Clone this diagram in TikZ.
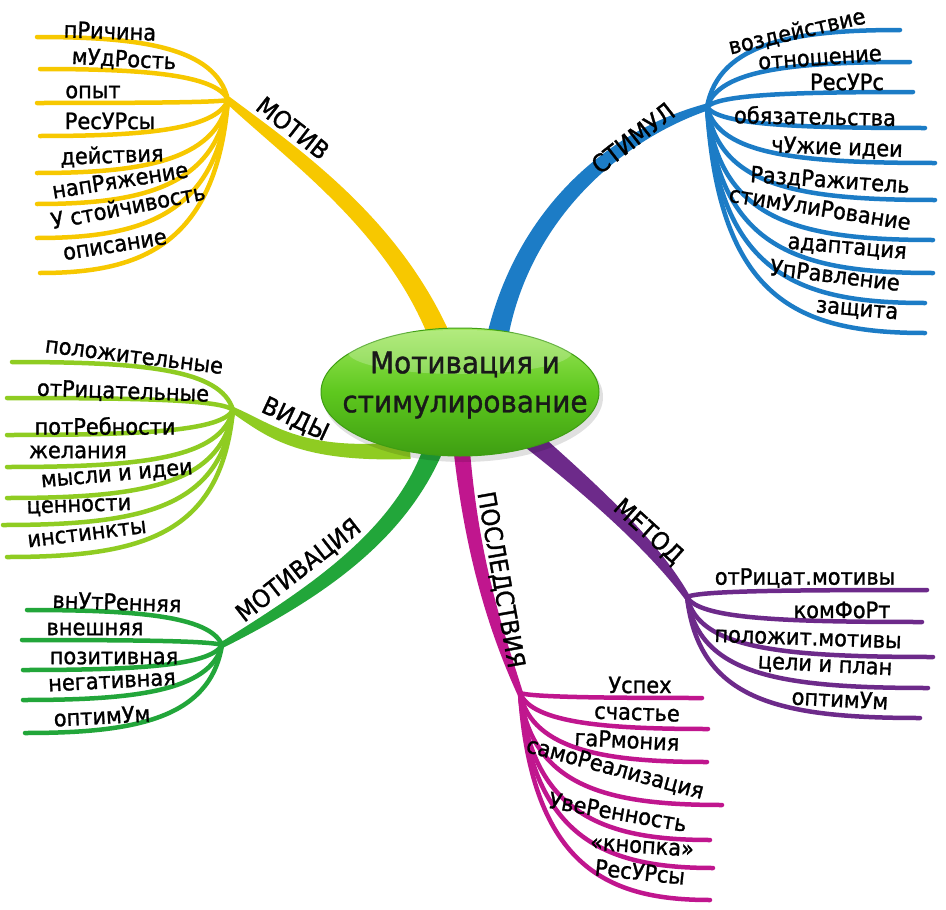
\documentclass[tikz,border=0pt]{standalone}
\usepackage{fontspec}
\setmainfont{DejaVu Sans}[FakeBold=1.2, FakeStretch=0.93]
\usetikzlibrary{calc,shapes.geometric}
\definecolor{cyel}{HTML}{F7C800}
\definecolor{cblu}{HTML}{1C7CC6}
\definecolor{cvid}{HTML}{8FCC22}
\definecolor{cmot}{HTML}{22A63A}
\definecolor{cpos}{HTML}{C0168E}
\definecolor{cmet}{HTML}{6D2A8A}
\definecolor{gtop}{HTML}{9FE75C}
\definecolor{gmid}{HTML}{5EC81E}
\definecolor{gbot}{HTML}{3E9E12}
\tikzset{
  leaf/.style={line width=4.5pt, line cap=round},
  lbl/.style={font=\fontsize{22.5}{22.5}\selectfont, inner sep=0pt, text=black},
  blbl/.style={font=\fontsize{24.5}{24.5}\selectfont, inner sep=0pt, text=black},
}
% #1 hub, #2 c1, #3 c2, #4 start, #5 colour, #6 hub half width, #7 mid, #8 end
\newcommand\taperbranch[8]{%
  \fill[#5] ($(#1)!#6!90:(#2)$) .. controls ($(#2)!#7!90:(#3)$) and ($(#3)!#7!-90:(#2)$) .. ($(#4)!#8!-90:(#3)$)
    -- ($(#4)!#8!90:(#3)$) .. controls ($(#3)!#7!90:(#2)$) and ($(#2)!#7!-90:(#3)$) .. ($(#1)!#6!-90:(#2)$) -- cycle;
  \fill[#5] (#1) circle[radius=#6];}
% #1 hub, #2 end, #3 colour, #4 sign (1 right, -1 left)
\newcommand\leafline[4]{%
  \draw[leaf,#3] let \p1=(#1), \p2=(#2) in
    (#1) .. controls ({\x1+(#4)*12pt}, {\y1+0.85*(\y2-\y1)}) and ({\x1+(#4)*90pt}, \y2) .. (#2);}
\begin{document}
\begin{tikzpicture}[x=1pt,y=-1pt]
\useasboundingbox (0,0) rectangle (946,910);
\fill[white] (0,0) rectangle (946,910);

% ---------- coordinates of branches ----------
\coordinate (yH) at (228,100); \coordinate (yC1) at (300,160); \coordinate (yC2) at (400,230); \coordinate (yS) at (445,350);
\coordinate (bH) at (707,107); \coordinate (bC1) at (600,140); \coordinate (bC2) at (515,230); \coordinate (bS) at (495,350);
\coordinate (vH) at (233,410); \coordinate (vC1) at (270,430); \coordinate (vC2) at (300,458); \coordinate (vS) at (410,450);
\coordinate (mH) at (222,645); \coordinate (mC1) at (320,590); \coordinate (mC2) at (410,530); \coordinate (mS) at (440,430);
\coordinate (pH) at (520,693); \coordinate (pC1) at (500,640); \coordinate (pC2) at (470,560); \coordinate (pS) at (460,430);
\coordinate (tH) at (687,597); \coordinate (tC1) at (650,540); \coordinate (tC2) at (580,480); \coordinate (tS) at (520,430);

% ---------- main branches ----------
\taperbranch{yH}{yC1}{yC2}{yS}{cyel}{3.5pt}{8.5pt}{11pt}
\taperbranch{bH}{bC1}{bC2}{bS}{cblu}{3.5pt}{8.5pt}{11pt}
\taperbranch{vH}{vC1}{vC2}{vS}{cvid}{3pt}{7pt}{9pt}
\taperbranch{mH}{mC1}{mC2}{mS}{cmot}{3pt}{8pt}{10.5pt}
\taperbranch{pH}{pC1}{pC2}{pS}{cpos}{3pt}{6.5pt}{8.5pt}
\taperbranch{tH}{tC1}{tC2}{tS}{cmet}{3pt}{7.5pt}{10.5pt}

% ---------- МОТИВ leaves ----------
\coordinate (ye1) at (37,37);  \coordinate (ye2) at (40,69);  \coordinate (ye3) at (37,103); \coordinate (ye4) at (40,136);
\coordinate (ye5) at (37,173); \coordinate (ye6) at (37,204); \coordinate (ye7) at (37,238); \coordinate (ye8) at (40,273);
\foreach \e in {ye1,ye2,ye3,ye4,ye5,ye6,ye7,ye8} {\leafline{yH}{\e}{cyel}{-1}}
\node[lbl,rotate=-2] (yl1) at (110,31) {пРичина};
\node[lbl,rotate=-3] (yl2) at (124,60) {мУдРость};
\node[lbl] (yl3) at (93,92) {опыт};
\node[lbl] (yl4) at (110,121) {РесУРсы};
\node[lbl,rotate=2] (yl5) at (112,156) {действия};
\node[lbl,rotate=9] (yl6) at (120,180) {напРяжение};
\node[lbl,rotate=11] (yl7) at (128,206) {У стойчивость};
\node[lbl,rotate=9] (yl8) at (115,246) {описание};
\node[blbl,rotate=-38] (ylab) at (293,128) {МОТИВ};

% ---------- СТИМУЛ leaves ----------
\coordinate (be1) at (900,30);  \coordinate (be2) at (910,62);  \coordinate (be3) at (913,92);  \coordinate (be4) at (925,128);
\coordinate (be5) at (935,163); \coordinate (be6) at (935,200); \coordinate (be7) at (933,240); \coordinate (be8) at (933,273);
\coordinate (be9) at (925,303); \coordinate (be10) at (925,333);
\foreach \e in {be1,be2,be3,be4,be5,be6,be7,be8,be9,be10} {\leafline{bH}{\e}{cblu}{1}}
\node[lbl,rotate=13] (bl1) at (797,32) {воздействие};
\node[lbl,rotate=4] (bl2) at (820,59) {отношение};
\node[lbl] (bl3) at (847,82) {РесУРс};
\node[lbl,rotate=-1] (bl4) at (815,116) {обязательства};
\node[lbl,rotate=-2] (bl5) at (837,148) {чУжие идеи};
\node[lbl,rotate=-4] (bl6) at (830,181) {РаздРажитель};
\node[lbl,rotate=-9] (bl7) at (820,208) {стимУлиРование};
\node[lbl,rotate=-5] (bl8) at (847,249) {адаптация};
\node[lbl,rotate=-7] (bl9) at (835,275) {УпРавление};
\node[lbl,rotate=-5] (bl10) at (857,311) {защита};
\node[blbl,rotate=38] (blab) at (633,138) {СТИМУЛ};

% ---------- ВИДЫ leaves ----------
\coordinate (ve1) at (12,362); \coordinate (ve2) at (7,398); \coordinate (ve3) at (7,435); \coordinate (ve4) at (7,467);
\coordinate (ve5) at (7,498);  \coordinate (ve6) at (3,525); \coordinate (ve7) at (7,557);
\foreach \e in {ve1,ve2,ve3,ve4,ve5,ve6,ve7} {\leafline{vH}{\e}{cvid}{-1}}
\node[lbl,rotate=-7] (vl1) at (134,357) {положительные};
\node[lbl,rotate=-2] (vl2) at (123,392) {отРицательные};
\node[lbl] (vl3) at (105,426) {потРебности};
\node[lbl] (vl4) at (78,452) {желания};
\node[lbl,rotate=5] (vl5) at (117,476) {мысли и идеи};
\node[lbl,rotate=2] (vl6) at (79,507) {ценности};
\node[lbl,rotate=7] (vl7) at (87,534) {инстинкты};
\node[blbl,rotate=-25] (vlab) at (295,420) {ВИДЫ};

% ---------- МОТИВАЦИЯ leaves ----------
\coordinate (me1) at (27,610); \coordinate (me2) at (22,640); \coordinate (me3) at (23,670); \coordinate (me4) at (23,700); \coordinate (me5) at (25,733);
\foreach \e in {me1,me2,me3,me4,me5} {\leafline{mH}{\e}{cmot}{-1}}
\node[lbl,rotate=-2] (ml1) at (117,602) {внУтРенняя};
\node[lbl] (ml2) at (95,629) {внешняя};
\node[lbl] (ml3) at (114,658) {позитивная};
\node[lbl,rotate=3] (ml4) at (112,682) {негативная};
\node[lbl,rotate=3] (ml5) at (102,716) {оптимУм};
\node[blbl,rotate=38] (mlab) at (299,571) {МОТИВАЦИЯ};

% ---------- ПОСЛЕДСТВИЯ leaves ----------
\coordinate (pe1) at (702,698); \coordinate (pe2) at (708,729); \coordinate (pe3) at (707,762); \coordinate (pe4) at (722,805);
\coordinate (pe5) at (710,840); \coordinate (pe6) at (713,868); \coordinate (pe7) at (710,900);
\foreach \e in {pe1,pe2,pe3,pe4,pe5,pe6,pe7} {\leafline{pH}{\e}{cpos}{1}}
\node[lbl] (pl1) at (640,685) {Успех};
\node[lbl,rotate=-2] (pl2) at (637,714) {счастье};
\node[lbl,rotate=-3] (pl3) at (627,740) {гаРмония};
\node[lbl,rotate=-15] (pl4) at (615,769) {самоРеализация};
\node[lbl,rotate=-10] (pl5) at (618,812) {УвеРенность};
\node[lbl,rotate=-4] (pl6) at (642,847) {«кнопка»};
\node[lbl,rotate=-6] (pl7) at (640,872) {РесУРсы};
\node[blbl,rotate=-80] (plab) at (500,580) {ПОСЛЕДСТВИЯ};

% ---------- МЕТОД leaves ----------
\coordinate (te1) at (927,590); \coordinate (te2) at (922,622); \coordinate (te3) at (933,657); \coordinate (te4) at (928,688); \coordinate (te5) at (920,718);
\foreach \e in {te1,te2,te3,te4,te5} {\leafline{tH}{\e}{cmet}{1}}
\node[lbl] (tl1) at (805,578) {отРицат.мотивы};
\node[lbl] (tl2) at (842,610) {комФоРт};
\node[lbl,rotate=-2] (tl3) at (808,639) {положит.мотивы};
\node[lbl,rotate=-3] (tl4) at (825,667) {цели и план};
\node[lbl,rotate=-3] (tl5) at (840,699) {оптимУм};
\node[blbl,rotate=-42] (tlab) at (648,532) {МЕТОД};

% ---------- central node ----------
\fill[black,opacity=0.12] (463,397) ellipse[x radius=140, y radius=65];
\node[ellipse, minimum width=278pt, minimum height=128pt, draw=gbot, line width=1pt,
      top color=gtop, bottom color=gbot, middle color=gmid, inner sep=0pt] (core) at (460,392) {};
\fill[white,opacity=0.22] (460,352) ellipse[x radius=112, y radius=22];
\node[font=\fontsize{30}{39}\selectfont, align=center, text=black!90] (coretext) at (465,385) {Мотивация и\\стимулирование};
\end{tikzpicture}
\end{document}
